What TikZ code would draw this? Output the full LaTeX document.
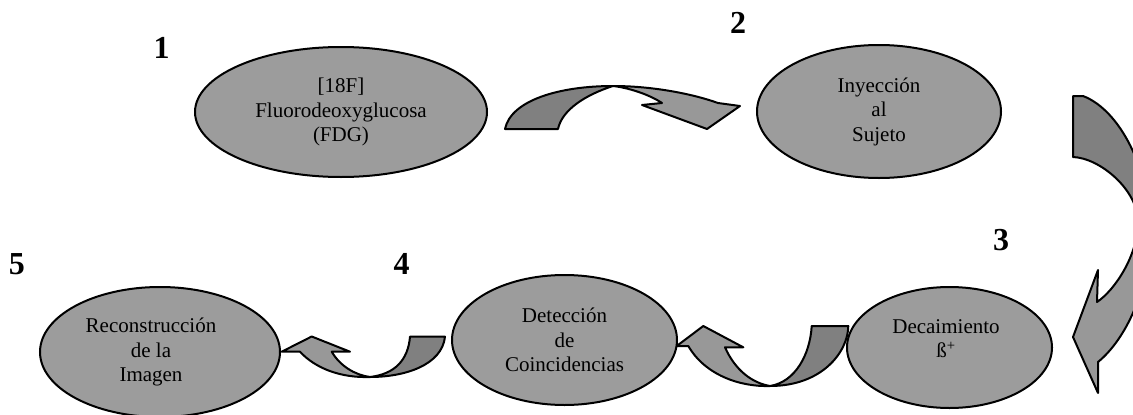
\documentclass[tikz,border=0pt]{standalone}
\usepackage{fontspec}
\setmainfont{Liberation Serif}
\usetikzlibrary{shapes.geometric}
\definecolor{ellfill}{RGB}{156,156,156}
\definecolor{arrdark}{RGB}{128,128,128}
\definecolor{arrlight}{RGB}{152,152,152}
\begin{document}
\begin{tikzpicture}[x=1pt,y=-1pt,
  ell/.style={ellipse, draw=black, line width=2pt, fill=ellfill, inner sep=0pt, align=center, font=\fontsize{21}{24.5}\selectfont},
  lbl/.style={inner sep=0pt, align=center, font=\fontsize{21}{24.5}\selectfont},
  num/.style={font=\fontsize{32}{36}\selectfont\bfseries, inner sep=0pt},
  darkarr/.style={draw=black, line width=2pt, fill=arrdark, line join=round},
  lightarr/.style={draw=black, line width=2pt, fill=arrlight, line join=round}]
\useasboundingbox (0,0) rectangle (1133,415);

% ellipses
\node[ell, minimum width=292pt, minimum height=130pt] (e1) at (341,112) {[18F]\\Fluorodeoxyglucosa\\(FDG)};
\node[ell, minimum width=244pt, minimum height=133pt] (e2) at (879,111.5) {Inyección\\al\\Sujeto};
\node[ell, minimum width=205pt, minimum height=121pt] (e3) at (949.5,347.5) {};
\node[lbl] (t3) at (946,338.5) {Decaimiento\\ß\textsuperscript{+}};
\node[ell, minimum width=225pt, minimum height=130pt] (e4) at (564.5,340) {Detección\\de\\Coincidencias};
\node[ell, minimum width=240pt, minimum height=130pt] (e5) at (160,352) {};
\node[lbl] (t5) at (151,352) {Reconstrucción\\de la\\Imagen};

% numbers
\node[num] (n1) at (161.5,48) {1};
\node[num] (n2) at (738,23) {2};
\node[num] (n3) at (1001,240) {3};
\node[num] (n4) at (401.5,264) {4};
\node[num] (n5) at (17,264) {5};

% arrow 1 -> 2
\coordinate (m12) at (613,86);
\draw[darkarr] (505,129) .. controls (511,100) and (560,86) .. (m12)
  .. controls (585,95) and (562,110) .. (558,129) -- cycle;
\draw[lightarr] (m12) .. controls (650,86) and (690,93) .. (718,103) -- (740,106)
  -- (707,129) -- (642,105) -- (662,103) .. controls (650,95) and (630,88) .. (m12) -- cycle;

% big arrow 2 -> 3 (clipped at page edge)
\begin{scope}
\clip (0,0) rectangle (1133,415);
\draw[lightarr] (1150,230) .. controls (1150,290) and (1125,340) .. (1098,362)
  -- (1098,393) -- (1073,337) -- (1098,270) -- (1097,302)
  .. controls (1115,290) and (1138,255) .. (1138,222) -- cycle;
\draw[darkarr] (1073,96) -- (1083,96) .. controls (1120,110) and (1150,170) .. (1150,230)
  -- (1138,222) .. controls (1138,190) and (1100,158) .. (1073,157) -- cycle;
\end{scope}

% arrow 3 -> 4
\coordinate (m34) at (770,386);
\draw[lightarr] (m34) .. controls (740,387) and (705,375) .. (688.3,346) -- (676.7,346)
  -- (703.3,326) -- (743.3,347.3) -- (725,347.3) .. controls (735,370) and (752,383) .. (m34) -- cycle;
\draw[darkarr] (811.7,326) -- (848.3,326) .. controls (848,352) and (822,386) .. (m34)
  .. controls (795,382) and (810,355) .. (811.7,326) -- cycle;

% arrow 4 -> 5
\coordinate (m45) at (370,377);
\draw[lightarr] (m45) .. controls (340,378) and (315,368) .. (300,351.7) -- (281.7,351.7)
  -- (311.7,336.5) -- (350,351.7) -- (331.7,351.7) .. controls (340,366) and (355,375) .. (m45) -- cycle;
\draw[darkarr] (410,336.7) -- (445,336.7) .. controls (442,365) and (405,377) .. (m45)
  .. controls (395,374) and (408,360) .. (410,336.7) -- cycle;
\end{tikzpicture}
\end{document}
